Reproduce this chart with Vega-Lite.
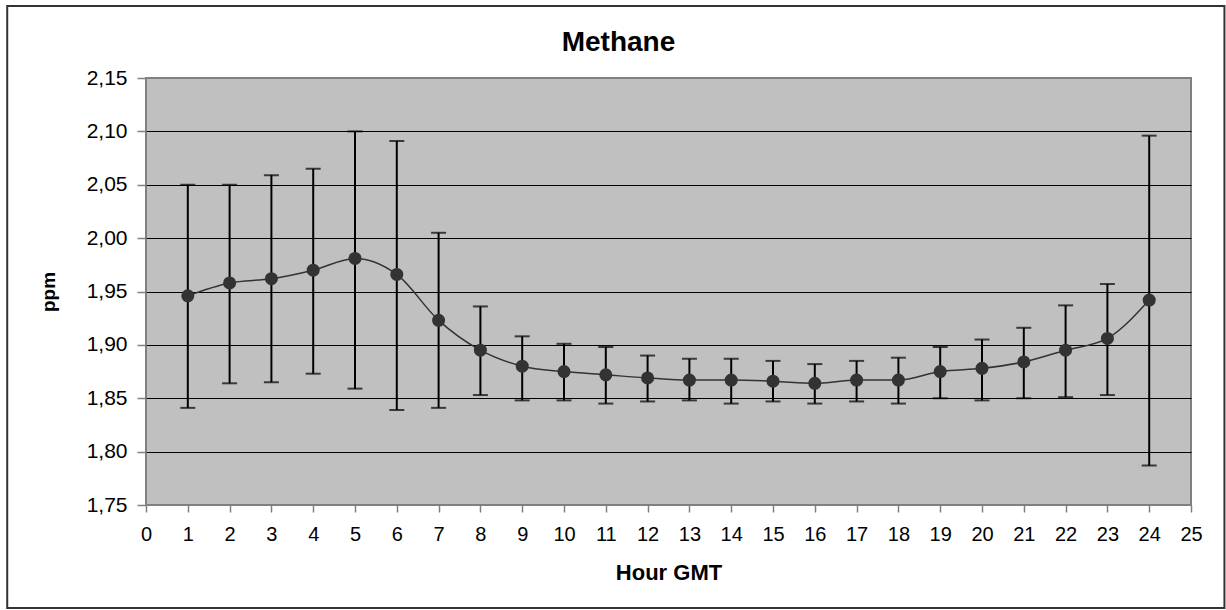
{
  "$schema": "https://vega.github.io/schema/vega-lite/v6.json",
  "width": 1045,
  "height": 427,
  "autosize": {"type": "none"},
  "padding": {"left": 146, "top": 78, "right": 35, "bottom": 105},
  "background": "white",
  "title": {
    "text": "Methane",
    "font": "Liberation Sans",
    "fontSize": 28,
    "fontWeight": "bold",
    "color": "black",
    "anchor": "middle",
    "dx": -50,
    "offset": -52
  },
  "config": {
    "font": "Liberation Sans",
    "view": {"fill": "#C0C0C0", "stroke": "#808080", "strokeWidth": 2}
  },
  "data": {
    "values": [
      {"hour": 1, "mean": 1.946, "lo": 1.841, "hi": 2.050},
      {"hour": 2, "mean": 1.958, "lo": 1.864, "hi": 2.050},
      {"hour": 3, "mean": 1.962, "lo": 1.865, "hi": 2.059},
      {"hour": 4, "mean": 1.970, "lo": 1.873, "hi": 2.065},
      {"hour": 5, "mean": 1.981, "lo": 1.859, "hi": 2.100},
      {"hour": 6, "mean": 1.966, "lo": 1.839, "hi": 2.091},
      {"hour": 7, "mean": 1.923, "lo": 1.841, "hi": 2.005},
      {"hour": 8, "mean": 1.895, "lo": 1.853, "hi": 1.936},
      {"hour": 9, "mean": 1.880, "lo": 1.848, "hi": 1.908},
      {"hour": 10, "mean": 1.875, "lo": 1.848, "hi": 1.901},
      {"hour": 11, "mean": 1.872, "lo": 1.845, "hi": 1.898},
      {"hour": 12, "mean": 1.869, "lo": 1.847, "hi": 1.890},
      {"hour": 13, "mean": 1.867, "lo": 1.848, "hi": 1.887},
      {"hour": 14, "mean": 1.867, "lo": 1.845, "hi": 1.887},
      {"hour": 15, "mean": 1.866, "lo": 1.847, "hi": 1.885},
      {"hour": 16, "mean": 1.864, "lo": 1.845, "hi": 1.882},
      {"hour": 17, "mean": 1.867, "lo": 1.847, "hi": 1.885},
      {"hour": 18, "mean": 1.867, "lo": 1.845, "hi": 1.888},
      {"hour": 19, "mean": 1.875, "lo": 1.850, "hi": 1.898},
      {"hour": 20, "mean": 1.878, "lo": 1.848, "hi": 1.905},
      {"hour": 21, "mean": 1.884, "lo": 1.850, "hi": 1.916},
      {"hour": 22, "mean": 1.895, "lo": 1.851, "hi": 1.937},
      {"hour": 23, "mean": 1.906, "lo": 1.853, "hi": 1.957},
      {"hour": 24, "mean": 1.942, "lo": 1.787, "hi": 2.096}
    ]
  },
  "layer": [
    {
      "mark": {"type": "rule", "color": "black", "strokeWidth": 2},
      "encoding": {
        "x": {
          "field": "hour",
          "type": "quantitative",
          "scale": {"domain": [0, 25], "nice": false, "zero": false},
          "axis": {
            "title": "Hour GMT",
            "values": [0,1,2,3,4,5,6,7,8,9,10,11,12,13,14,15,16,17,18,19,20,21,22,23,24,25],
            "format": "d",
            "grid": false,
            "domain": false,
            "tickColor": "#808080",
            "tickSize": 7,
            "tickWidth": 1.5,
            "labelFontSize": 20,
            "labelColor": "black",
            "labelPadding": 12,
            "labelFlush": false,
            "labelOverlap": false,
            "titleFontSize": 22,
            "titleFontWeight": "bold",
            "titleColor": "black",
            "titlePadding": 18
          }
        },
        "y": {
          "field": "lo",
          "type": "quantitative",
          "scale": {"domain": [1.75, 2.15], "nice": false, "zero": false},
          "axis": {
            "title": "ppm",
            "values": [1.75, 1.8, 1.85, 1.9, 1.95, 2.0, 2.05, 2.1, 2.15],
            "labelExpr": "replace(format(datum.value, '.2f'), '.', ',')",
            "grid": true,
            "gridColor": {"condition": {"test": "datum.value > 2.14 || datum.value < 1.76", "value": "#808080"}, "value": "black"},
            "gridWidth": 1,
            "domain": false,
            "tickColor": "#808080",
            "tickSize": 9,
            "tickWidth": 1.5,
            "labelFontSize": 21,
            "labelColor": "black",
            "labelPadding": 10,
            "labelFlush": false,
            "titleFontSize": 19,
            "titleFontWeight": "bold",
            "titleColor": "black",
            "titlePadding": 28
          }
        },
        "y2": {"field": "hi"}
      }
    },
    {
      "mark": {"type": "tick", "orient": "horizontal", "color": "black", "size": 15, "thickness": 2},
      "encoding": {
        "x": {"field": "hour", "type": "quantitative"},
        "y": {"field": "hi", "type": "quantitative"}
      }
    },
    {
      "mark": {"type": "tick", "orient": "horizontal", "color": "black", "size": 15, "thickness": 2},
      "encoding": {
        "x": {"field": "hour", "type": "quantitative"},
        "y": {"field": "lo", "type": "quantitative"}
      }
    },
    {
      "mark": {"type": "line", "interpolate": "monotone", "color": "#333333", "strokeWidth": 1.5},
      "encoding": {
        "x": {"field": "hour", "type": "quantitative"},
        "y": {"field": "mean", "type": "quantitative"}
      }
    },
    {
      "mark": {"type": "circle", "color": "#333333", "opacity": 1, "size": 170},
      "encoding": {
        "x": {"field": "hour", "type": "quantitative"},
        "y": {"field": "mean", "type": "quantitative"}
      }
    },
    {
      "data": {"values": [{}]},
      "mark": {"type": "rect", "fill": null, "stroke": "#333333", "strokeWidth": 2, "clip": false},
      "encoding": {
        "x": {"datum": -3.32, "type": "quantitative"},
        "x2": {"datum": 25.8},
        "y": {"datum": 2.2175, "type": "quantitative"},
        "y2": {"datum": 1.6535}
      }
    }
  ]
}
